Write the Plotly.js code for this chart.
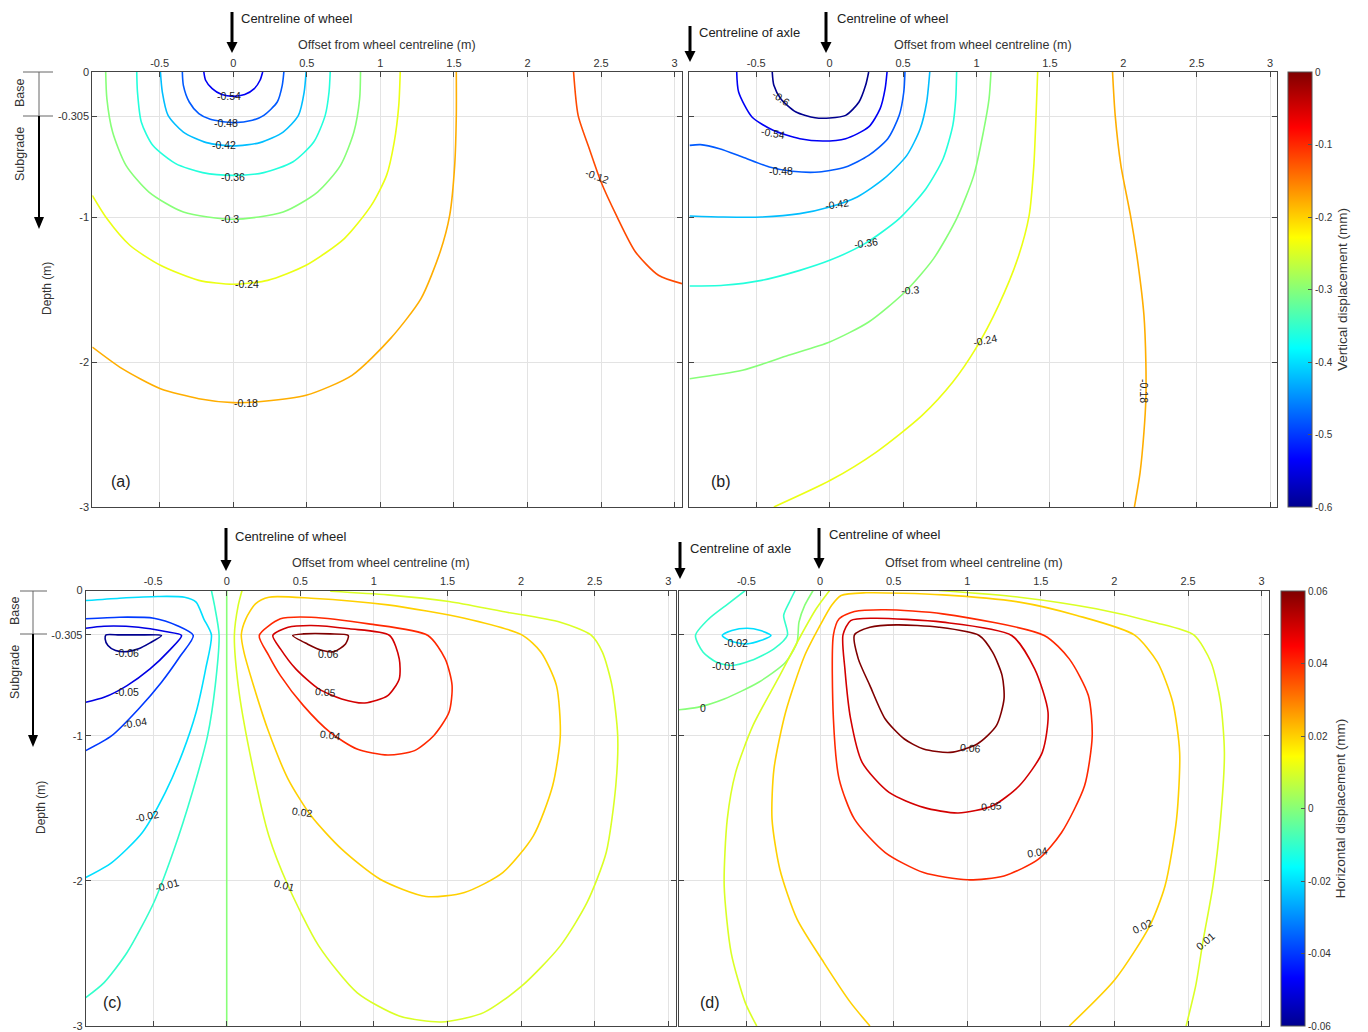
<!DOCTYPE html>
<html><head><meta charset="utf-8">
<script src="https://cdn.plot.ly/plotly-3.0.1.min.js"></script>
<style>body{margin:0;background:#fff}#chart{width:1368px;height:1032px}</style>
</head><body><div id="chart"></div>
<script>
// ------------------ DATA ------------------
const xTickVals = [-0.5, 0, 0.5, 1, 1.5, 2, 2.5, 3];
const xTickText = ['-0.5', '0', '0.5', '1', '1.5', '2', '2.5', '3'];
const yTickVals = [0, -0.305, -1, -2, -3];
const yTickText = ['0', '-0.305', '-1', '-2', '-3'];
const vertTickVals = [0, -0.1, -0.2, -0.3, -0.4, -0.5, -0.6];
const vertTickText = ['0', '-0.1', '-0.2', '-0.3', '-0.4', '-0.5', '-0.6'];
const horzTickVals = [0.06, 0.04, 0.02, 0, -0.02, -0.04, -0.06];
const horzTickText = ['0.06', '0.04', '0.02', '0', '-0.02', '-0.04', '-0.06'];

// Panel (a): vertical displacement, single wheel
const aLevels = [-0.54, -0.48, -0.42, -0.36, -0.30, -0.24, -0.18, -0.12];
const aX = [
 [-0.200,-0.188,-0.143,-0.078,0,0.078,0.143,0.182,0.200],
 [-0.346,-0.339,-0.299,-0.234,-0.156,0,0.130,0.208,0.299,0.333,0.344],
 [-0.495,-0.482,-0.443,-0.339,-0.182,0,0.182,0.339,0.443,0.482,0.495],
 [-0.656,-0.651,-0.625,-0.547,-0.391,-0.208,0,0.208,0.404,0.547,0.625,0.651,0.659],
 [-0.867,-0.859,-0.820,-0.729,-0.573,-0.339,0,0.339,0.573,0.729,0.820,0.859,0.865],
 [-0.958,-0.859,-0.703,-0.495,-0.234,0,0.234,0.495,0.755,0.938,1.042,1.094,1.125,1.135],
 [1.516,1.516,1.505,1.471,1.406,1.276,1.068,0.807,0.495,0.208,0,-0.234,-0.495,-0.755,-0.958],
 [2.313,2.344,2.420,2.500,2.604,2.734,2.890,3.050]
];
const aY = [
 [0,-0.057,-0.115,-0.156,-0.168,-0.156,-0.115,-0.057,0],
 [0,-0.092,-0.207,-0.287,-0.326,-0.349,-0.333,-0.299,-0.207,-0.092,0],
 [0,-0.138,-0.299,-0.414,-0.487,-0.510,-0.487,-0.414,-0.299,-0.138,0],
 [0,-0.138,-0.345,-0.506,-0.632,-0.694,-0.713,-0.694,-0.621,-0.483,-0.299,-0.138,0],
 [0,-0.184,-0.414,-0.644,-0.828,-0.966,-1.016,-0.966,-0.828,-0.644,-0.414,-0.184,0],
 [-0.851,-1.011,-1.195,-1.333,-1.437,-1.464,-1.437,-1.333,-1.149,-0.920,-0.713,-0.483,-0.230,0],
 [0,-0.299,-0.644,-0.989,-1.241,-1.563,-1.839,-2.092,-2.230,-2.271,-2.280,-2.253,-2.184,-2.046,-1.897],
 [0,-0.299,-0.529,-0.759,-0.989,-1.241,-1.402,-1.460]
];
const aLabText = ['-0.54','-0.48','-0.42','-0.36','-0.3','-0.24','-0.18','-0.12'];
const aLabX = [-0.03,-0.05,-0.06,0.0,-0.02,0.095,0.085,2.47];
const aLabY = [-0.165,-0.35,-0.505,-0.725,-1.015,-1.465,-2.28,-0.72];
const aLabAng = [0,0,0,0,0,0,0,20];

// Panel (b): vertical displacement, axle
const bLevels = [-0.60, -0.54, -0.48, -0.42, -0.36, -0.30, -0.24, -0.18];
const bX = [
 [-0.391,-0.380,-0.333,-0.229,-0.099,0,0.109,0.200,0.245,0.266],
 [-0.633,-0.620,-0.529,-0.385,-0.203,-0.047,0.109,0.266,0.344,0.378,0.391],
 [-0.953,-0.880,-0.750,-0.594,-0.411,-0.255,-0.073,0.109,0.266,0.396,0.474,0.505,0.513],
 [-0.953,-0.724,-0.464,-0.203,0,0.188,0.370,0.526,0.617,0.661,0.682],
 [-0.953,-0.724,-0.464,-0.203,0,0.240,0.474,0.656,0.773,0.839,0.859,0.865],
 [-0.953,-0.594,-0.281,0,0.266,0.513,0.708,0.865,0.982,1.047,1.086,1.099],
 [-0.380,0.005,0.318,0.630,0.839,0.995,1.151,1.281,1.359,1.391,1.406,1.417],
 [1.927,1.945,1.984,2.049,2.102,2.141,2.154,2.154,2.141,2.115,2.076]
];
const bY = [
 [0,-0.092,-0.184,-0.276,-0.315,-0.317,-0.299,-0.207,-0.092,0],
 [0,-0.138,-0.310,-0.402,-0.460,-0.476,-0.460,-0.379,-0.253,-0.115,0],
 [-0.506,-0.501,-0.529,-0.586,-0.655,-0.685,-0.690,-0.655,-0.575,-0.460,-0.299,-0.138,0],
 [-0.993,-1.000,-1.000,-0.977,-0.931,-0.862,-0.736,-0.575,-0.391,-0.207,0],
 [-1.476,-1.471,-1.437,-1.368,-1.299,-1.184,-1.011,-0.805,-0.598,-0.368,-0.184,0],
 [-2.115,-2.057,-1.954,-1.862,-1.724,-1.517,-1.287,-1.011,-0.713,-0.414,-0.184,0],
 [-3.000,-2.816,-2.621,-2.368,-2.138,-1.908,-1.609,-1.287,-0.989,-0.644,-0.299,0],
 [0,-0.299,-0.644,-0.989,-1.333,-1.678,-2.000,-2.253,-2.483,-2.759,-3.000]
];
const bLabText = ['-0.6','-0.54','-0.48','-0.42','-0.36','-0.3','-0.24','-0.18'];
const bLabX = [-0.333,-0.385,-0.33,0.05,0.245,0.547,1.06,2.141];
const bLabY = [-0.18,-0.42,-0.685,-0.91,-1.18,-1.5,-1.845,-2.2];
const bLabAng = [35,10,0,-8,-8,-5,-12,90];

// Panel (c): horizontal displacement, single wheel
const cLevels = [-0.06, -0.05, -0.04, -0.02, -0.01, 0, 0.01, 0.02, 0.04, 0.05, 0.06];
const cX = [
 [-0.443,-0.521,-0.599,-0.677,-0.755,-0.807,-0.826,-0.820,-0.729,-0.599,-0.443],
 [-0.958,-0.833,-0.599,-0.417,-0.307,-0.391,-0.521,-0.677,-0.833,-0.958],
 [-0.958,-0.729,-0.495,-0.339,-0.227,-0.313,-0.443,-0.599,-0.781,-0.958],
 [-0.958,-0.729,-0.469,-0.286,-0.208,-0.156,-0.104,-0.143,-0.208,-0.299,-0.417,-0.573,-0.781,-0.958],
 [-0.104,-0.083,-0.052,-0.078,-0.130,-0.234,-0.365,-0.495,-0.677,-0.833,-0.958],
 [0,0],
 [0.104,0.078,0.052,0.078,0.156,0.286,0.417,0.625,0.885,1.172,1.458,1.745,2.005,2.266,2.448,2.578,2.643,2.656,2.617,2.552,2.474,2.266,1.875,1.510,1.094,0.703],
 [0.099,0.130,0.195,0.286,0.573,1.094,1.615,2.005,2.135,2.240,2.266,2.214,2.083,1.875,1.615,1.354,1.042,0.781,0.573,0.417,0.286,0.182,0.117,0.099],
 [0.221,0.365,0.573,0.964,1.367,1.484,1.531,1.510,1.406,1.276,1.094,0.885,0.703,0.521,0.365,0.286,0.221],
 [0.313,0.417,0.573,0.833,1.107,1.172,1.172,1.094,0.938,0.781,0.625,0.469,0.365,0.313],
 [0.448,0.521,0.703,0.826,0.807,0.729,0.651,0.547,0.448]
];
const cY = [
 [-0.310,-0.361,-0.402,-0.421,-0.414,-0.379,-0.333,-0.306,-0.306,-0.306,-0.310],
 [-0.260,-0.246,-0.253,-0.283,-0.310,-0.414,-0.540,-0.655,-0.736,-0.770],
 [-0.195,-0.184,-0.191,-0.241,-0.310,-0.448,-0.632,-0.816,-1.000,-1.103],
 [-0.069,-0.053,-0.041,-0.046,-0.080,-0.195,-0.306,-0.540,-0.839,-1.115,-1.391,-1.667,-1.874,-1.977],
 [0,-0.103,-0.306,-0.655,-1.000,-1.391,-1.805,-2.149,-2.494,-2.701,-2.805],
 [0,-3],
 [0,-0.103,-0.306,-0.655,-1.115,-1.690,-2.034,-2.448,-2.770,-2.931,-2.972,-2.908,-2.724,-2.448,-2.149,-1.805,-1.345,-1.000,-0.655,-0.425,-0.306,-0.218,-0.145,-0.076,-0.030,-0.005],
 [-0.306,-0.195,-0.092,-0.046,-0.053,-0.099,-0.191,-0.306,-0.425,-0.655,-1.000,-1.345,-1.690,-1.943,-2.080,-2.108,-1.989,-1.782,-1.552,-1.299,-0.977,-0.655,-0.425,-0.306],
 [-0.310,-0.195,-0.184,-0.230,-0.310,-0.471,-0.655,-0.839,-1.000,-1.103,-1.133,-1.092,-0.977,-0.793,-0.586,-0.448,-0.310],
 [-0.310,-0.253,-0.241,-0.264,-0.310,-0.471,-0.609,-0.724,-0.775,-0.747,-0.678,-0.540,-0.402,-0.310],
 [-0.310,-0.299,-0.299,-0.310,-0.368,-0.421,-0.414,-0.368,-0.310]
];
const cLabText = ['-0.06','-0.05','-0.04','-0.02','-0.01','0.01','0.02','0.04','0.05','0.06'];
const cLabX = [-0.68,-0.68,-0.625,-0.542,-0.404,0.39,0.513,0.703,0.672,0.69];
const cLabY = [-0.432,-0.70,-0.913,-1.552,-2.03,-2.03,-1.524,-0.993,-0.697,-0.437];
const cLabAng = [0,0,-10,-12,-15,15,8,8,5,0];

// Panel (d): horizontal displacement, axle
const dLevels = [-0.02, -0.01, 0, 0.01, 0.01, 0.02, 0.04, 0.05, 0.06];
const dX = [
 [-0.664,-0.599,-0.495,-0.404,-0.333,-0.404,-0.495,-0.599,-0.664],
 [-0.169,-0.208,-0.247,-0.221,-0.313,-0.469,-0.599,-0.703,-0.794,-0.846,-0.755,-0.625,-0.508],
 [-0.047,-0.104,-0.143,-0.156,-0.234,-0.417,-0.651,-0.833,-0.958],
 [0.065,-0.026,-0.130,-0.286,-0.456,-0.573,-0.630,-0.651,-0.604,-0.508,-0.430],
 [0.807,1.354,1.875,2.266,2.539,2.656,2.721,2.747,2.721,2.669,2.604,2.552,2.487],
 [0.339,0.208,0.026,-0.156,-0.273,-0.326,-0.313,-0.234,-0.104,0,0.078,0.143,0.313,0.833,1.354,1.745,2.135,2.292,2.396,2.443,2.422,2.344,2.240,2.005,1.693],
 [0.091,0.130,0.234,0.443,0.833,1.523,1.693,1.823,1.849,1.797,1.641,1.484,1.250,1.003,0.703,0.443,0.234,0.130,0.091,0.091],
 [0.156,0.208,0.365,0.833,1.302,1.458,1.549,1.510,1.354,1.172,0.938,0.703,0.469,0.286,0.208,0.169,0.156],
 [0.234,0.339,0.521,0.807,1.081,1.172,1.237,1.250,1.198,1.068,0.885,0.703,0.573,0.443,0.339,0.260,0.234]
];
const dY = [
 [-0.310,-0.276,-0.260,-0.276,-0.310,-0.345,-0.368,-0.352,-0.310],
 [0,-0.080,-0.172,-0.306,-0.402,-0.483,-0.517,-0.494,-0.425,-0.310,-0.195,-0.092,0],
 [0,-0.103,-0.218,-0.356,-0.494,-0.632,-0.747,-0.805,-0.821],
 [0,-0.126,-0.310,-0.609,-0.931,-1.253,-1.575,-2.034,-2.494,-2.839,-3.000],
 [0,-0.046,-0.126,-0.218,-0.306,-0.494,-0.770,-1.115,-1.575,-2.034,-2.402,-2.724,-3.000],
 [-3.000,-2.839,-2.563,-2.264,-1.920,-1.575,-1.230,-0.839,-0.448,-0.241,-0.103,-0.034,-0.016,-0.030,-0.080,-0.172,-0.306,-0.494,-0.770,-1.115,-1.575,-2.034,-2.310,-2.678,-3.000],
 [-0.306,-0.195,-0.145,-0.133,-0.161,-0.310,-0.471,-0.724,-1.000,-1.345,-1.667,-1.851,-1.966,-1.993,-1.943,-1.805,-1.575,-1.299,-0.885,-0.306],
 [-0.306,-0.207,-0.191,-0.218,-0.310,-0.540,-0.839,-1.115,-1.345,-1.483,-1.533,-1.494,-1.391,-1.184,-0.885,-0.540,-0.306],
 [-0.306,-0.253,-0.237,-0.253,-0.310,-0.425,-0.586,-0.747,-0.931,-1.057,-1.115,-1.092,-1.023,-0.885,-0.655,-0.471,-0.306]
];
const dLabText = ['-0.02','-0.01','0','0.01','0.02','0.04','0.05','0.06'];
const dLabX = [-0.568,-0.651,-0.794,2.617,2.193,1.479,1.167,1.021];
const dLabY = [-0.363,-0.517,-0.811,-2.414,-2.31,-1.8,-1.483,-1.087];
const dLabAng = [0,0,0,-40,-25,-10,-5,5];

// ------------------ STYLE / LAYOUT ------------------
const W = 1368, H = 1032;
const FONT = '"Liberation Sans", Arial, Helvetica, sans-serif';
const px = x => x / W;
const py = y => 1 - y / H;

const JET = [[0,[0,0,143]],[0.11,[0,0,255]],[0.365,[0,255,255]],[0.62,[255,255,0]],[0.873,[255,0,0]],[1,[128,0,0]]];
const JETSCALE = JET.map(s => [s[0], 'rgb(' + s[1].join(',') + ')']);
function jet(v, lo, hi) {
  let t = Math.max(0, Math.min(1, (v - lo) / (hi - lo)));
  for (let i = 1; i < JET.length; i++) {
    if (t <= JET[i][0]) {
      const a = JET[i-1], b = JET[i];
      const f = (t - a[0]) / (b[0] - a[0]);
      const c = a[1].map((ch, k) => Math.round(ch + f * (b[1][k] - ch)));
      return 'rgb(' + c.join(',') + ')';
    }
  }
  return 'rgb(128,0,0)';
}

const panels = [
  {lv:aLevels, X:aX, Y:aY, lt:aLabText, lx:aLabX, ly:aLabY, la:aLabAng, xa:'x', ya:'y', lo:-0.6, hi:0},
  {lv:bLevels, X:bX, Y:bY, lt:bLabText, lx:bLabX, ly:bLabY, la:bLabAng, xa:'x2', ya:'y2', lo:-0.6, hi:0},
  {lv:cLevels, X:cX, Y:cY, lt:cLabText, lx:cLabX, ly:cLabY, la:cLabAng, xa:'x3', ya:'y3', lo:-0.06, hi:0.06},
  {lv:dLevels, X:dX, Y:dY, lt:dLabText, lx:dLabX, ly:dLabY, la:dLabAng, xa:'x4', ya:'y4', lo:-0.06, hi:0.06}
];

const traces = [];
const annotations = [];
panels.forEach(p => {
  p.lv.forEach((lev, i) => {
    traces.push({
      type:'scatter', mode:'lines', x:p.X[i], y:p.Y[i], xaxis:p.xa, yaxis:p.ya,
      line:{color:jet(lev, p.lo, p.hi), width:1.6, shape:'spline', smoothing:0.7},
      hoverinfo:'skip', showlegend:false
    });
  });
  p.lt.forEach((t, i) => {
    annotations.push({xref:p.xa, yref:p.ya, x:p.lx[i], y:p.ly[i], text:t, showarrow:false,
      xanchor:'center', yanchor:'middle',
      textangle:p.la[i], font:{family:FONT, size:10.5, color:'#1a1a1a'}});
  });
});

// colorbar carriers (points placed outside the visible range)
function cbTrace(xa, ya, lo, hi, tv, tt, title, left, top) {
  return {type:'scatter', mode:'markers', x:[-9,-9], y:[9,9], xaxis:xa, yaxis:ya,
    hoverinfo:'skip', showlegend:false,
    marker:{size:1, color:[lo,hi], cmin:lo, cmax:hi, colorscale:JETSCALE, showscale:true,
      colorbar:{x:px(left), xanchor:'left', y:py(top), yanchor:'top', len:435/H, lenmode:'fraction',
        thickness:24, thicknessmode:'pixels', xpad:0, ypad:0, outlinewidth:1, outlinecolor:'#555',
        tickmode:'array', tickvals:tv, ticktext:tt, ticks:'inside', ticklen:4, tickcolor:'#555',
        tickfont:{family:FONT, size:10, color:'#333'},
        title:{text:title, side:'right', font:{family:FONT, size:13.5, color:'#333'}}}}};
}
traces.push(cbTrace('x2','y2',-0.6,0,vertTickVals,vertTickText,'Vertical displacement (mm)',1288,72));
traces.push(cbTrace('x4','y4',-0.06,0.06,horzTickVals,horzTickText,'Horizontal displacement (mm)',1281,591));

const axBase = {showline:true, linecolor:'#444', linewidth:1, mirror:'ticks', ticks:'inside', ticklen:5,
  tickcolor:'#444', tickwidth:1, showgrid:true, gridcolor:'#e3e3e3', gridwidth:1, zeroline:false,
  tickfont:{family:FONT, size:11, color:'#333'}, fixedrange:true};
function xAx(d0, d1, anchor) {
  return Object.assign({}, axBase, {domain:[px(d0), px(d1)], range:[-0.958, 3.05], side:'top',
    tickmode:'array', tickvals:xTickVals, ticktext:xTickText, anchor:anchor});
}
function yAx(top, bottom, anchor, labels) {
  return Object.assign({}, axBase, {domain:[py(bottom), py(top)], range:[-3, 0],
    tickmode:'array', tickvals:yTickVals, ticktext:yTickText, anchor:anchor, showticklabels:labels});
}

// text decorations
function txt(x, y, t, size, opts) {
  return Object.assign({xref:'paper', yref:'paper', x:px(x), y:py(y), text:t, showarrow:false,
    xanchor:'center', yanchor:'middle',
    font:{family:FONT, size:size, color:'#222'}}, opts || {});
}
annotations.push(txt(239, 18, 'Centreline of wheel', 13, {xanchor:'left'}));
annotations.push(txt(835, 18, 'Centreline of wheel', 13, {xanchor:'left'}));
annotations.push(txt(697, 32, 'Centreline of axle', 13, {xanchor:'left'}));
annotations.push(txt(233, 536, 'Centreline of wheel', 13, {xanchor:'left'}));
annotations.push(txt(827, 534, 'Centreline of wheel', 13, {xanchor:'left'}));
annotations.push(txt(688, 548, 'Centreline of axle', 13, {xanchor:'left'}));
[[387,45],[983,45],[381,563],[974,563]].forEach(p =>
  annotations.push(txt(p[0], p[1], 'Offset from wheel centreline (m)', 12.5, {font:{family:FONT,size:12.5,color:'#333'}})));
annotations.push(txt(47, 289, 'Depth (m)', 12, {textangle:-90, font:{family:FONT,size:12,color:'#333'}}));
annotations.push(txt(41, 808, 'Depth (m)', 12, {textangle:-90, font:{family:FONT,size:12,color:'#333'}}));
annotations.push(txt(20, 93, 'Base', 12.5, {textangle:-90, font:{family:FONT,size:12.5,color:'#333'}}));
annotations.push(txt(20, 154, 'Subgrade', 12.5, {textangle:-90, font:{family:FONT,size:12.5,color:'#333'}}));
annotations.push(txt(15, 611, 'Base', 12.5, {textangle:-90, font:{family:FONT,size:12.5,color:'#333'}}));
annotations.push(txt(15, 672, 'Subgrade', 12.5, {textangle:-90, font:{family:FONT,size:12.5,color:'#333'}}));
annotations.push(txt(121, 482, '(a)', 16));
annotations.push(txt(721, 482, '(b)', 16));
annotations.push(txt(112, 1002, '(c)', 16));
annotations.push(txt(710, 1002, '(d)', 16));

// shapes: arrows & brackets
const shapes = [];
function arrow(x, yTail, yTip, sw, hw, hl) {
  shapes.push({type:'line', xref:'paper', yref:'paper', x0:px(x), x1:px(x), y0:py(yTail), y1:py(yTip - hl + 1),
    line:{color:'#000', width:sw}});
  shapes.push({type:'path', xref:'paper', yref:'paper',
    path:'M ' + px(x - hw/2) + ',' + py(yTip - hl) + ' L ' + px(x + hw/2) + ',' + py(yTip - hl) + ' L ' + px(x) + ',' + py(yTip) + ' Z',
    fillcolor:'#000', line:{color:'#000', width:0}});
}
function hline(x0, x1, y) {
  shapes.push({type:'line', xref:'paper', yref:'paper', x0:px(x0), x1:px(x1), y0:py(y), y1:py(y), line:{color:'#666', width:1}});
}
function vline(x, y0, y1) {
  shapes.push({type:'line', xref:'paper', yref:'paper', x0:px(x), x1:px(x), y0:py(y0), y1:py(y1), line:{color:'#666', width:1}});
}
arrow(232, 12, 53, 3, 11, 11);
arrow(826, 12, 53, 3, 11, 11);
arrow(690, 26, 62, 3, 11, 11);
arrow(226, 528, 571, 3, 11, 11);
arrow(819, 528, 569, 3, 11, 11);
arrow(680, 542, 579, 3, 11, 11);
// Base / Subgrade brackets
hline(23, 53, 72); hline(23, 53, 116); vline(39, 72, 116); arrow(39, 116, 229, 2, 10, 12);
hline(20, 47, 591); hline(20, 47, 634); vline(33, 591, 634); arrow(33, 634, 747, 2, 10, 12);

const layout = {
  width:W, height:H, margin:{l:0, r:0, t:0, b:0}, paper_bgcolor:'#fff', plot_bgcolor:'#fff',
  showlegend:false, hovermode:false, font:{family:FONT, color:'#333'},
  xaxis:xAx(92.3, 682, 'y'),   yaxis:yAx(72, 507, 'x', true),
  xaxis2:xAx(689, 1277.4, 'y2'), yaxis2:yAx(72, 507, 'x2', false),
  xaxis3:xAx(85.7, 675.7, 'y3'), yaxis3:yAx(590.5, 1026, 'x3', true),
  xaxis4:xAx(679, 1269, 'y4'), yaxis4:yAx(590.5, 1026, 'x4', false),
  annotations:annotations, shapes:shapes
};
Plotly.newPlot('chart', traces, layout, {staticPlot:true, displayModeBar:false});
</script></body></html>
